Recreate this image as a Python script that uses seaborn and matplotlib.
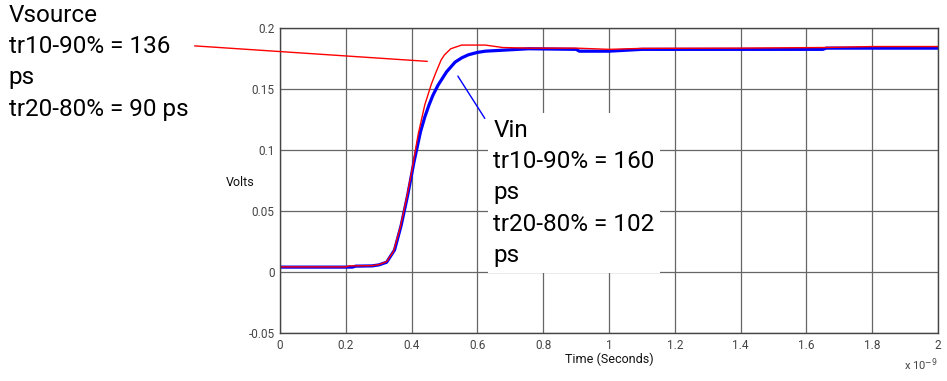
import matplotlib
matplotlib.use("Agg")
import matplotlib.pyplot as plt
import seaborn as sns
import pandas as pd

# waveform samples, time in ns
t_source = [0.0, 0.2, 0.21, 0.28, 0.30, 0.324, 0.345, 0.365, 0.385, 0.40, 0.42, 0.44, 0.46, 0.473,
            0.49, 0.50, 0.519, 0.552, 0.624, 0.677, 0.756, 0.9, 1.0, 1.1, 1.4, 1.65, 1.8, 2.0]
v_source = [0.0042, 0.0042, 0.0050, 0.0052, 0.0060, 0.0085, 0.017, 0.036, 0.061, 0.082, 0.113, 0.137,
            0.154, 0.163, 0.174, 0.178, 0.183, 0.186, 0.186, 0.184, 0.1835, 0.1835, 0.1825, 0.1833,
            0.1835, 0.1840, 0.1848, 0.1848]

t_in = [0.0, 0.22, 0.23, 0.28, 0.30, 0.324, 0.348, 0.368, 0.388, 0.407, 0.427, 0.44, 0.453, 0.465,
        0.48, 0.506, 0.532, 0.552, 0.572, 0.6, 0.624, 0.69, 0.756, 0.9, 0.91, 1.0, 1.1, 1.65, 1.66, 2.0]
v_in = [0.0040, 0.0040, 0.0048, 0.0050, 0.0058, 0.0080, 0.018, 0.038, 0.063, 0.090, 0.115, 0.127,
        0.137, 0.145, 0.153, 0.164, 0.172, 0.1755, 0.178, 0.180, 0.181, 0.182, 0.183, 0.1825, 0.1810,
        0.1810, 0.1825, 0.1825, 0.1835, 0.1835]

y_ticks = [-0.05, 0, 0.05, 0.1, 0.15, 0.2]
y_labels = ["-0.05", "0", "0.05", "0.1", "0.15", "0.2"]
x_ticks = [0, 0.2, 0.4, 0.6, 0.8, 1, 1.2, 1.4, 1.6, 1.8, 2]
x_labels = ["0", "0.2", "0.4", "0.6", "0.8", "1", "1.2", "1.4", "1.6", "1.8", "2"]

vsource_text = "Vsource\ntr10-90% = 136\nps\ntr20-80% = 90 ps"
vin_text = "Vin\ntr10-90% = 160\nps\ntr20-80% = 102\nps"

df_src = pd.DataFrame({"t": t_source, "v": v_source})
df_in = pd.DataFrame({"t": t_in, "v": v_in})

sns.set_style("white")
plt.rcParams["font.family"] = ["Roboto", "DejaVu Sans"]

fig = plt.figure(figsize=(9.47, 3.81), dpi=100)
ax = fig.add_axes([0.2957, 0.126, 0.6948, 0.8005])

sns.lineplot(data=df_in, x="t", y="v", color="#0000ff", linewidth=2.3, ax=ax)
sns.lineplot(data=df_src, x="t", y="v", color="#ff0000", linewidth=1.0, ax=ax)

ax.set_xlim(0, 2)
ax.set_ylim(-0.05, 0.2)
ax.set_xticks(x_ticks)
ax.set_xticklabels(x_labels)
ax.set_yticks(y_ticks)
ax.set_yticklabels(y_labels)
ax.tick_params(labelsize=8.5, colors="#444444", length=0, pad=4)
ax.grid(True, color="#666666", linewidth=0.9)
for s in ax.spines.values():
    s.set_color("#444444")
    s.set_linewidth(1.0)

ax.set_xlabel("Time (Seconds)", fontsize=9, color="#111111", labelpad=1)
ax.set_ylabel("")
fig.text(0.238, 0.52, "Volts", fontsize=9, color="#111111", ha="left", va="center")
fig.text(0.955, 0.022, r"x 10$^{-9}$", fontsize=8, color="#444444", ha="left", va="bottom")

# annotations
fig.text(0.009, 0.99, vsource_text, fontsize=17.5, color="black", ha="left", va="top", linespacing=1.46)
ax.annotate("", xy=(0.456, 0.1725), xytext=(-0.268, 0.1855),
            arrowprops=dict(arrowstyle="-", color="#ff0000", lw=1.0), annotation_clip=False)
ax.annotate("", xy=(0.536, 0.1625), xytext=(0.627, 0.124),
            arrowprops=dict(arrowstyle="-", color="#0000ff", lw=1.0))
ax.text(0.648, 0.1255, vin_text, fontsize=17.5, color="black", ha="left", va="top", linespacing=1.46,
        bbox=dict(facecolor="white", edgecolor="none", pad=4))

fig.savefig("out.png", dpi=100)
